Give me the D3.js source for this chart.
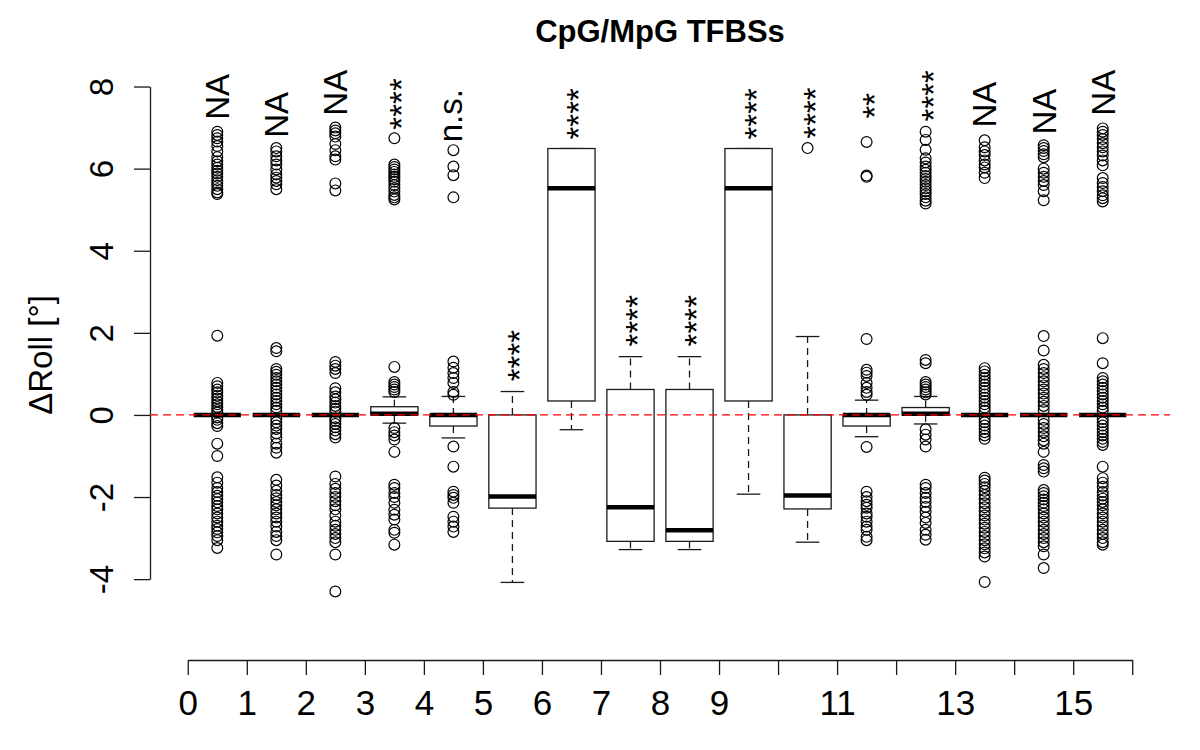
<!DOCTYPE html>
<html><head><meta charset="utf-8">
<script src="https://cdn.jsdelivr.net/npm/d3@7"></script>
<style>body{margin:0;background:#fff}svg{display:block}</style>
</head><body>
<svg id="chart" width="1200" height="750"></svg>
<script>
// ---------- data ----------
const groupPositions = [0.5,1.5,2.5,3.5,4.5,5.5,6.5,7.5,8.5,9.5,10.5,11.5,12.5,13.5,14.5,15.5];
const lowerWhisker = [0,0,0,-0.2,-0.56,-4.08,-0.36,-3.28,-3.28,-1.93,-3.1,-0.53,-0.22,0,0,0];
const q1Values     = [0,0,0,0,-0.27,-2.27,0.34,-3.08,-3.08,0.34,-2.29,-0.27,0,0,0,0];
const medianValues = [0,0,0,0.03,0,-1.99,5.52,-2.25,-2.81,5.52,-1.96,0,0.03,0,0,0];
const q3Values     = [0,0,0,0.2,0,0,6.49,0.62,0.62,6.49,0,0,0.18,0,0,0];
const upperWhisker = [0,0,0,0.44,0.45,0.57,6.49,1.42,1.42,6.49,1.91,0.36,0.45,0,0,0];
const sigLabels = ["NA","NA","NA","****","n.s.","****","****","****","****","****","****","**","****","NA","NA","NA"];
const sigLabelStart = [7.19,6.75,7.29,6.95,6.64,0.82,6.71,1.67,1.67,6.71,6.73,7.22,7.15,7.0,6.83,7.29];
const outliers = [
  [6.9,6.82,6.74,6.66,6.55,6.42,6.28,6.18,6.1,6.02,5.95,5.88,5.8,5.72,5.65,5.58,5.5,5.42,5.38,
   1.93,0.78,0.7,0.62,0.55,0.47,0.4,0.33,0.26,0.19,0.12,0.06,-0.06,-0.12,-0.2,-0.27,-0.7,-1.0,
   -1.52,-1.65,-1.78,-1.88,-1.97,-2.05,-2.13,-2.22,-2.3,-2.4,-2.5,-2.6,-2.7,-2.78,-2.86,-2.95,-3.05,-3.24],
  [6.5,6.42,6.3,6.2,6.1,5.98,5.86,5.78,5.7,5.62,5.5,
   1.63,1.55,1.12,1.05,0.98,0.9,0.82,0.74,0.66,0.58,0.5,0.42,0.34,0.26,0.18,0.1,-0.1,-0.18,-0.26,-0.34,-0.45,-0.55,-0.7,-0.8,-0.92,
   -1.58,-1.72,-1.85,-1.95,-2.03,-2.12,-2.2,-2.3,-2.4,-2.5,-2.6,-2.72,-2.85,-2.95,-3.05,-3.4],
  [7.0,6.93,6.86,6.78,6.6,6.45,6.3,6.22,5.64,5.47,
   1.29,1.2,1.12,1.02,0.65,0.55,0.45,0.38,0.3,0.22,0.15,0.08,-0.08,-0.15,-0.22,-0.3,-0.38,-0.47,-0.55,
   -1.5,-1.68,-1.8,-1.9,-2.0,-2.1,-2.2,-2.3,-2.45,-2.6,-2.7,-2.8,-2.9,-3.0,-3.1,-3.4,-4.3],
  [6.74,6.1,6.04,5.98,5.92,5.86,5.8,5.74,5.68,5.6,5.52,5.44,5.36,5.3,5.25,
   1.17,0.8,0.74,0.68,0.62,0.56,-0.32,-0.42,-0.5,-0.6,-0.9,
   -1.7,-1.78,-1.9,-2.0,-2.14,-2.31,-2.43,-2.55,-2.8,-2.87,-3.16],
  [6.45,6.05,5.84,5.3,
   1.3,1.15,1.02,0.9,0.78,0.56,0.49,-0.77,-1.26,
   -1.87,-1.95,-2.02,-2.14,-2.48,-2.6,-2.72,-2.85],
  [],
  [],
  [],
  [],
  [],
  [6.5],
  [6.65,5.83,5.8,1.85,1.1,1.03,0.95,0.78,0.66,0.56,0.49,-0.78,
   -1.87,-2.0,-2.1,-2.19,-2.26,-2.4,-2.48,-2.6,-2.72,-2.8,-2.97,-3.05],
  [6.9,6.7,6.46,6.25,6.15,6.05,5.97,5.9,5.82,5.75,5.68,5.6,5.52,5.45,5.38,5.3,5.22,5.15,
   1.34,1.26,0.8,0.74,0.68,0.62,0.55,0.5,-0.35,-0.48,-0.6,-0.77,
   -1.7,-1.78,-1.9,-2.02,-2.12,-2.24,-2.36,-2.5,-2.63,-2.8,-2.92,-3.04],
  [6.69,6.52,6.42,6.33,6.2,6.1,6.03,5.9,5.77,
   1.14,1.06,0.98,0.9,0.82,0.74,0.66,0.58,0.5,0.42,0.34,0.26,0.18,0.1,-0.1,-0.18,-0.26,-0.34,-0.42,-0.5,-0.58,
   -1.53,-1.6,-1.68,-1.76,-1.85,-1.95,-2.05,-2.15,-2.25,-2.35,-2.45,-2.55,-2.65,-2.75,-2.85,-2.95,-3.05,-3.15,-3.25,-3.35,-3.45,-4.07],
  [6.57,6.5,6.43,6.35,6.28,6.0,5.9,5.8,5.7,5.6,5.45,5.23,
   1.92,1.57,1.22,1.12,1.02,0.92,0.82,0.72,0.62,0.52,0.42,0.32,0.22,0.12,-0.12,-0.22,-0.32,-0.42,-0.52,-0.62,-0.7,-0.9,-1.22,-1.3,-1.38,
   -1.83,-1.9,-1.98,-2.06,-2.14,-2.22,-2.3,-2.4,-2.5,-2.6,-2.7,-2.8,-2.9,-3.0,-3.1,-3.2,-3.4,-3.73],
  [6.98,6.9,6.82,6.72,6.62,6.52,6.42,6.32,6.2,6.08,5.77,5.65,5.55,5.45,5.35,5.28,5.2,
   1.87,1.26,0.9,0.82,0.74,0.66,0.58,0.5,0.42,0.34,0.26,0.18,0.1,-0.1,-0.18,-0.26,-0.34,-0.42,-0.5,-0.58,-0.66,-0.73,
   -1.26,-1.54,-1.65,-1.75,-1.88,-1.96,-2.04,-2.12,-2.2,-2.3,-2.4,-2.5,-2.6,-2.7,-2.8,-2.9,-3.0,-3.1,-3.16]
];
const xTickValues = [0,1,2,3,4,5,6,7,8,9,10,11,12,13,14,15,16];
const xTickLabels = ["0","1","2","3","4","5","6","7","8","9","","11","","13","","15",""];
const yTickValues = [-4,-2,0,2,4,6,8];
const yTickLabels = ["-4","-2","0","2","4","6","8"];
const titleText = "CpG/MpG TFBSs";
const yLabelText = "\u0394Roll [\u00B0]";
const referenceValue = 0;

// ---------- layout ----------
const FONT = "'Liberation Sans', Arial, Helvetica, sans-serif";
const svg = d3.select("#chart");
const plot = {left:150, right:1170, top:50, bottom:660};
const x = d3.scaleLinear().domain([-0.64, 16.64]).range([plot.left, plot.right]);
const y = d3.scaleLinear().domain([-5.97, 8.89]).range([plot.bottom, plot.top]);
const boxWidth = x(0.8) - x(0);
const stapleWidth = boxWidth / 2;
const ink = "#1a1a1a";

// ---------- axes ----------
const xAxisScale = d3.scaleLinear().domain([0,16]).range([x(0), x(16)]);
const xAxis = svg.append("g").attr("transform", `translate(0,${plot.bottom})`)
  .call(d3.axisBottom(xAxisScale).tickValues(xTickValues)
        .tickFormat((d,i) => xTickLabels[i]).tickSize(15).tickSizeOuter(0));
xAxis.select(".domain").attr("stroke", ink).attr("stroke-width", 1.3);
xAxis.selectAll(".tick line").attr("stroke", ink).attr("stroke-width", 1.3);
xAxis.selectAll(".tick text").attr("y", 55).attr("dy", null)
  .attr("fill", "#000").style("font-family", FONT).style("font-size", "35px");

const yAxisScale = d3.scaleLinear().domain([-4,8]).range([y(-4), y(8)]);
const yAxis = svg.append("g").attr("transform", `translate(${plot.left},0)`)
  .call(d3.axisLeft(yAxisScale).tickValues(yTickValues)
        .tickFormat((d,i) => yTickLabels[i]).tickSize(16).tickSizeOuter(0));
yAxis.select(".domain").attr("stroke", ink).attr("stroke-width", 1.3);
yAxis.selectAll(".tick line").attr("stroke", ink).attr("stroke-width", 1.3);
yAxis.selectAll(".tick text").attr("x", null).attr("dy", null)
  .attr("transform", "translate(-37,0) rotate(-90)")
  .attr("text-anchor", "middle").attr("fill", "#000")
  .style("font-family", FONT).style("font-size", "33px");

// ---------- title & label ----------
svg.append("text").attr("x", (plot.left+plot.right)/2).attr("y", 42)
  .attr("text-anchor", "middle").style("font-family", FONT)
  .style("font-size", "31px").style("font-weight", "bold").text(titleText);
svg.append("text").attr("transform", `translate(52,${(plot.top+plot.bottom)/2}) rotate(-90)`)
  .attr("text-anchor", "middle").style("font-family", FONT)
  .style("font-size", "33px").text(yLabelText);

// ---------- boxes ----------
const groupsData = groupPositions.map((p,i) => ({
  pos:p, lw:lowerWhisker[i], q1:q1Values[i], med:medianValues[i], q3:q3Values[i], uw:upperWhisker[i],
  out:outliers[i], label:sigLabels[i], labelAt:sigLabelStart[i]
}));
const g = svg.append("g");
const boxes = g.selectAll("g.box").data(groupsData).join("g").attr("class","box");
// whiskers (dashed)
boxes.append("line").attr("x1", d=>x(d.pos)).attr("x2", d=>x(d.pos))
  .attr("y1", d=>y(d.q3)).attr("y2", d=>y(d.uw))
  .attr("stroke", ink).attr("stroke-width", 1.3).attr("stroke-dasharray", "7,5");
boxes.append("line").attr("x1", d=>x(d.pos)).attr("x2", d=>x(d.pos))
  .attr("y1", d=>y(d.q1)).attr("y2", d=>y(d.lw))
  .attr("stroke", ink).attr("stroke-width", 1.3).attr("stroke-dasharray", "7,5");
// staples
["uw","lw"].forEach(k => {
  boxes.append("line").attr("x1", d=>x(d.pos)-stapleWidth/2).attr("x2", d=>x(d.pos)+stapleWidth/2)
    .attr("y1", d=>y(d[k])).attr("y2", d=>y(d[k]))
    .attr("stroke", ink).attr("stroke-width", 1.3);
});
// box
boxes.append("rect").attr("x", d=>x(d.pos)-boxWidth/2).attr("width", boxWidth)
  .attr("y", d=>y(d.q3)).attr("height", d=>Math.max(0, y(d.q1)-y(d.q3)))
  .attr("fill", "#fff").attr("stroke", ink).attr("stroke-width", 1.3);
// median
boxes.append("line").attr("x1", d=>x(d.pos)-boxWidth/2).attr("x2", d=>x(d.pos)+boxWidth/2)
  .attr("y1", d=>y(d.med)).attr("y2", d=>y(d.med))
  .attr("stroke", "#000").attr("stroke-width", 4.5);
// outliers
boxes.selectAll("circle").data(d => d.out.map(v => ({pos:d.pos, v}))).join("circle")
  .attr("cx", d=>x(d.pos)).attr("cy", d=>y(d.v)).attr("r", 5.4)
  .attr("fill", "none").attr("stroke", "#000").attr("stroke-width", 1.2);

// ---------- significance labels ----------
const labelFont = 33;
function inkCenter(label){
  if (/^\*+$/.test(label)) return 0.575;
  if (label === "n.s.") return 0.26;
  return 0.358;
}
boxes.append("text")
  .attr("transform", d => `translate(${x(d.pos)},${y(d.labelAt)}) rotate(-90)`)
  .attr("y", d => inkCenter(d.label)*labelFont)
  .attr("text-anchor", "start").style("font-family", FONT)
  .style("font-size", labelFont + "px").text(d => d.label);

// ---------- reference line ----------
svg.append("line").attr("x1", plot.left).attr("x2", plot.right)
  .attr("y1", y(referenceValue)).attr("y2", y(referenceValue))
  .attr("stroke", "#ff0000").attr("stroke-width", 1.3).attr("stroke-dasharray", "8,5");
</script>
</body></html>
